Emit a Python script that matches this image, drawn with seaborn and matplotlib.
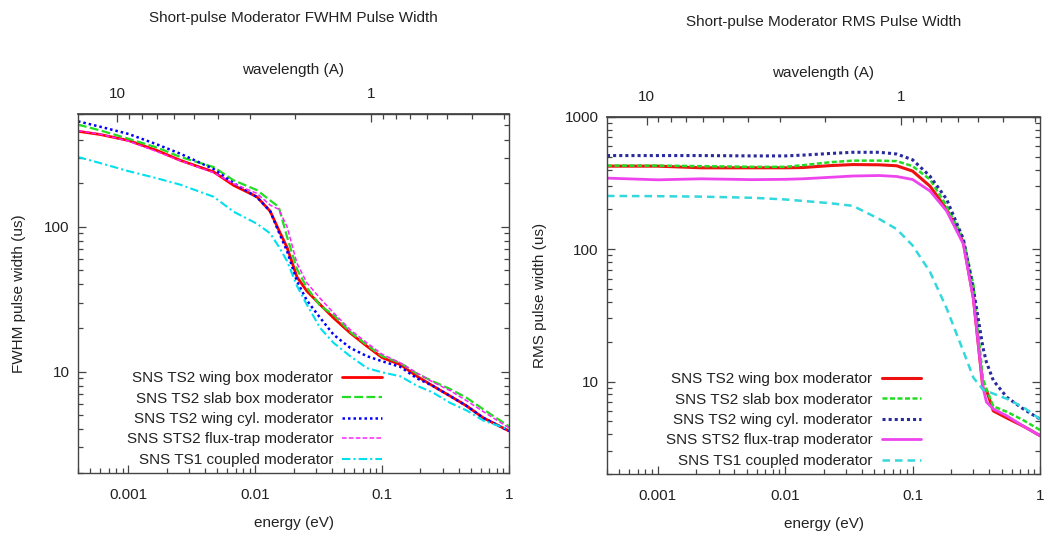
import numpy as np
import pandas as pd
import matplotlib
matplotlib.use("Agg")
import matplotlib.pyplot as plt
import seaborn as sns
from matplotlib.ticker import FixedLocator, FixedFormatter, NullFormatter, FuncFormatter, LogLocator

# ---------------- data ----------------
series_names = ["SNS TS2 wing box moderator", "SNS TS2 slab box moderator",
                "SNS TS2 wing cyl. moderator", "SNS STS2 flux-trap moderator",
                "SNS TS1 coupled moderator"]

energy_fwhm = [0.0004, 0.0006, 0.001, 0.00168, 0.00257, 0.0047, 0.00675, 0.0103, 0.0131,
               0.0153, 0.0178, 0.0213, 0.0255, 0.0325, 0.0414, 0.056, 0.0758, 0.1, 0.139,
               0.188, 0.25, 0.343, 0.464, 0.628, 1.0]
fwhm_wing_box = [456, 433, 394, 336, 287, 239, 193, 161, 128, 95, 72, 45, 36, 29, 23.5, 18.5,
                 15, 12.5, 11.2, 9.3, 8.0, 6.8, 5.8, 4.8, 3.9]
fwhm_slab_box = [507, 462, 405, 352, 303, 258, 209, 179, 152, 137, 85, 51, 38, 28.5, 24.7,
                 18.8, 15.3, 12.8, 11.5, 9.7, 8.6, 7.6, 6.6, 5.5, 4.2]
fwhm_wing_cyl = [534, 490, 437, 370, 319, 250, 200, 160, 128, 92, 68, 42, 31, 23.5, 18, 14.6,
                 12.8, 11.8, 10.8, 9.0, 8.0, 6.8, 5.8, 4.8, 3.9]
fwhm_flux_trap = [460, 435, 390, 330, 285, 236, 198, 170, 141, 132, 100, 56, 41, 32, 25.5,
                  19.5, 15.8, 13.2, 11.5, 9.8, 8.5, 7.4, 6.3, 5.3, 4.1]
fwhm_ts1_coupled = [303, 275, 242, 216, 195, 161, 127, 105, 90, 73, 58, 39, 29, 20, 15.8,
                    12.8, 10.6, 9.9, 9.3, 8.0, 7.2, 6.1, 5.4, 4.6, 4.0]

energy_rms = [0.0004, 0.001, 0.0022, 0.0056, 0.01, 0.0138, 0.0225, 0.034, 0.055, 0.075, 0.1,
              0.137, 0.185, 0.25, 0.30, 0.357, 0.38, 0.43, 0.55, 0.74, 1.0]
rms_wing_box = [425, 425, 413, 413, 413, 415, 429, 437, 435, 428, 390, 300, 201, 113, 43,
                8.8, 8.6, 6.0, 5.3, 4.6, 3.9]
rms_slab_box = [429, 429, 425, 420, 420, 432, 455, 468, 468, 464, 425, 337, 213, 120, 54,
                10.5, 8.8, 6.5, 5.9, 5.1, 4.3]
rms_wing_cyl = [511, 511, 511, 508, 508, 515, 530, 541, 541, 525, 475, 357, 239, 120, 50,
                18, 14, 10.2, 7.6, 6.2, 5.2]
rms_flux_trap = [345, 335, 341, 336, 338, 341, 350, 358, 361, 355, 337, 276, 195, 110, 42,
                 9.0, 7.0, 6.2, 5.5, 4.6, 3.9]
rms_ts1_coupled = [253, 252, 250, 245, 238, 232, 223, 213, 169, 142, 107, 67.5, 35.8, 17,
                   10.7, 8.7, 8.5, 8.1, 7.4, 6.4, 5.2]

energy_ticks = [0.001, 0.01, 0.1, 1]
wavelength_major = [10, 1]
wavelength_minor = [9, 8, 7, 6, 5, 4, 3, 2, 0.9, 0.8, 0.7, 0.6, 0.5, 0.4, 0.3]

# ---------------- style ----------------
sns.set_theme(style="ticks")
plt.rcParams["font.family"] = ["Liberation Sans", "DejaVu Sans"]
FS = 11
TXT = "#222222"

fig = plt.figure(figsize=(10.44, 5.39), dpi=100)
W, H = 1044, 539

def axes_px(l, t, r, b):
    return fig.add_axes([l / W, 1 - b / H, (r - l) / W, (b - t) / H])

ax1 = axes_px(78, 114, 509, 473)
ax2 = axes_px(607, 117, 1040, 474)

styles_left = [
    dict(color="#ff0000", lw=2.0, linestyle="-"),
    dict(color="#22dd22", lw=1.6, linestyle=(0, (4, 1.5))),
    dict(color="#0000ff", lw=1.8, linestyle=(0, (1, 1.2))),
    dict(color="#ff22ff", lw=1.1, linestyle=(0, (3, 1.5))),
    dict(color="#00e0ee", lw=1.5, linestyle=(0, (4, 1.5, 1, 1.5))),
]
styles_right = [
    dict(color="#ee1111", lw=2.2, linestyle="-"),
    dict(color="#22dd22", lw=1.8, linestyle=(0, (2, 1))),
    dict(color="#2a2aa0", lw=2.2, linestyle=(0, (1, 1))),
    dict(color="#ee44ee", lw=2.0, linestyle="-"),
    dict(color="#33d8dd", lw=1.8, linestyle=(0, (3, 2))),
]

left_data = [fwhm_wing_box, fwhm_slab_box, fwhm_wing_cyl, fwhm_flux_trap, fwhm_ts1_coupled]
right_data = [rms_wing_box, rms_slab_box, rms_wing_cyl, rms_flux_trap, rms_ts1_coupled]

for name, vals, st in zip(series_names, left_data, styles_left):
    df = pd.DataFrame({"energy": energy_fwhm, "width": vals})
    sns.lineplot(data=df, x="energy", y="width", ax=ax1, label=name, sort=False,
                 estimator=None, **st)
for name, vals, st in zip(series_names, right_data, styles_right):
    df = pd.DataFrame({"energy": energy_rms, "width": vals})
    sns.lineplot(data=df, x="energy", y="width", ax=ax2, label=name, sort=False,
                 estimator=None, **st)

fmt = FuncFormatter(lambda v, p: f"{v:g}")

def lam_to_e(lams):
    return [0.0818 / (l * l) for l in lams]

def style_axes(ax, ylim, yticks, title, ylabel, title_y):
    ax.set_xscale("log")
    ax.set_yscale("log")
    ax.set_xlim(0.0004, 1.0)
    ax.set_ylim(*ylim)
    ax.xaxis.set_major_locator(FixedLocator(energy_ticks))
    ax.xaxis.set_major_formatter(fmt)
    ax.xaxis.set_minor_locator(LogLocator(base=10, subs=np.arange(2, 10)))
    ax.xaxis.set_minor_formatter(NullFormatter())
    ax.yaxis.set_major_locator(FixedLocator(yticks))
    ax.yaxis.set_major_formatter(fmt)
    ax.yaxis.set_minor_locator(LogLocator(base=10, subs=np.arange(2, 10)))
    ax.yaxis.set_minor_formatter(NullFormatter())
    ax.tick_params(which="both", direction="in", top=False, right=True,
                   colors="#444444", labelcolor=TXT, labelsize=FS, width=0.9)
    ax.tick_params(which="major", length=6)
    ax.tick_params(which="minor", length=3.5)
    ax.tick_params(axis="x", pad=11)
    ax.tick_params(axis="y", pad=6)
    for s in ax.spines.values():
        s.set_color("#444444")
        s.set_linewidth(1.0)
    ax.set_xlabel("energy (eV)", fontsize=FS, color=TXT, labelpad=10)
    ax.set_ylabel(ylabel, fontsize=FS, color=TXT, labelpad=13)
    sec = ax.secondary_xaxis("top")
    sec.xaxis.set_major_locator(FixedLocator(lam_to_e(wavelength_major)))
    sec.xaxis.set_major_formatter(FixedFormatter([f"{l:g}" for l in wavelength_major]))
    sec.xaxis.set_minor_locator(FixedLocator(lam_to_e(wavelength_minor)))
    sec.xaxis.set_minor_formatter(NullFormatter())
    sec.tick_params(which="both", direction="in", colors="#444444", labelcolor=TXT,
                    labelsize=FS, width=0.9, pad=9)
    sec.tick_params(which="major", length=6)
    sec.tick_params(which="minor", length=3.5)
    sec.spines["top"].set_color("#444444")
    sec.set_xlabel("wavelength (A)", fontsize=FS, color=TXT, labelpad=10)
    cx = (ax.get_position().x0 + ax.get_position().x1) / 2
    fig.text(cx, 1 - title_y / H, title, ha="center", va="center", fontsize=FS, color=TXT)

style_axes(ax1, (2, 600), [10, 100], "Short-pulse Moderator FWHM Pulse Width",
           "FWHM pulse width (us)", 18)
style_axes(ax2, (2, 1000), [10, 100, 1000], "Short-pulse Moderator RMS Pulse Width",
           "RMS pulse width (us)", 22)

leg1 = ax1.legend(loc="lower right", bbox_to_anchor=(0.72, 0.0), markerfirst=False,
                  frameon=False, fontsize=FS, handlelength=2.6, handletextpad=0.6,
                  labelspacing=0.42, borderaxespad=0.0)
leg2 = ax2.legend(loc="lower right", bbox_to_anchor=(0.74, 0.0), markerfirst=False,
                  frameon=False, fontsize=FS, handlelength=2.6, handletextpad=0.6,
                  labelspacing=0.42, borderaxespad=0.0)
for lg in (leg1, leg2):
    for t in lg.get_texts():
        t.set_color(TXT)

fig.savefig("out.png", dpi=100, facecolor="white")
